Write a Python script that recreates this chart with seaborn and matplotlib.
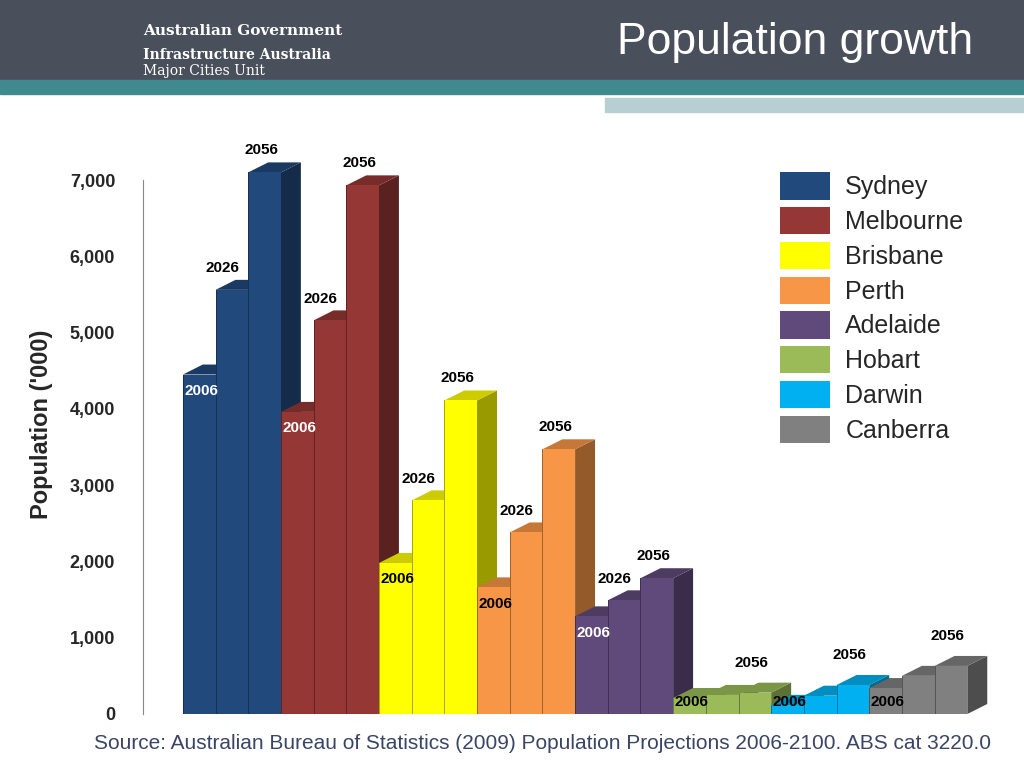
import numpy as np
import pandas as pd
import matplotlib
matplotlib.use("Agg")
import matplotlib.pyplot as plt
import matplotlib.colors as mcolors
from matplotlib.patches import Polygon, Rectangle, Patch
import seaborn as sns

# Data ('000 persons)
cities = ["Sydney", "Melbourne", "Brisbane", "Perth", "Adelaide", "Hobart", "Darwin", "Canberra"]
years = ["2006", "2026", "2056"]
pop_2006 = [4450, 3960, 1980, 1660, 1280, 210, 120, 340]
pop_2026 = [5560, 5160, 2800, 2380, 1490, 250, 240, 500]
pop_2056 = [7100, 6930, 4110, 3470, 1780, 280, 380, 630]
colors = ["#21497c", "#953735", "#ffff00", "#f79646", "#604a7b", "#9bbb59", "#00b0f0", "#808080"]
label_2006_color = ["white", "white", "black", "black", "white", "black", "black", "black"]

rows = []
for c, a, b, d in zip(cities, pop_2006, pop_2026, pop_2056):
    for y, v in zip(years, [a, b, d]):
        rows.append({"city": c, "year": y, "label": c + y, "value": v})
df = pd.DataFrame(rows)

sns.set_style("white")
plt.rcParams["font.family"] = ["Liberation Sans", "DejaVu Sans"]
fig = plt.figure(figsize=(10.24, 7.68), dpi=100)

# header
fig.patches.append(Rectangle((0, 1 - 80 / 768), 1, 80 / 768, transform=fig.transFigure, color="#4a4f5c", zorder=0))
fig.patches.append(Rectangle((0, 1 - 94 / 768), 1, 14 / 768, transform=fig.transFigure, color="#3f8a8f", zorder=0))
fig.patches.append(Rectangle((605 / 1024, 1 - 112 / 768), 420 / 1024, 14 / 768, transform=fig.transFigure, color="#b7cfd2", zorder=0))
fig.text(0.95, 0.945, "Population growth", color="white", fontsize=32, ha="right", va="center")
fig.text(0.14, 0.96, "Australian Government", color="white", fontsize=11, fontweight="bold", family="serif", va="center")
fig.text(0.14, 0.928, "Infrastructure Australia", color="white", fontsize=10, fontweight="bold", family="serif", va="center")
fig.text(0.14, 0.907, "Major Cities Unit", color="white", fontsize=10, family="serif", va="center")

ax = fig.add_axes([143 / 1024, 1 - 714 / 768, 857 / 1024, 579 / 768])
pal = [colors[cities.index(c)] for c in df["city"]]
sns.barplot(data=df, x="label", y="value", hue="label", palette=pal, width=1.0,
            legend=False, ax=ax, saturation=1, linewidth=0)
for p in ax.patches:
    p.set_zorder(4)

dx, dy = 0.61, 131
for i, r in df.iterrows():
    k = cities.index(r["city"])
    col = colors[k]
    dark = np.array(mcolors.to_rgb(col)) * 0.6
    mid = np.array(mcolors.to_rgb(col)) * 0.8
    x0, x1, h = i - 0.5, i + 0.5, r["value"]
    z = 2 + i * 0.01
    ax.add_patch(Polygon([(x1, 0), (x1 + dx, dy), (x1 + dx, h + dy), (x1, h)], color=dark, zorder=z, lw=0))
    ax.add_patch(Polygon([(x0, h), (x0 + dx, h + dy), (x1 + dx, h + dy), (x1, h)], color=mid, zorder=z, lw=0))
    ax.plot([x0, x0], [0, h], color=dark, lw=0.6, zorder=5)
    if r["year"] == "2006":
        if h > 1000:
            ax.text(x0 + 0.05, h - 120, "2006", color=label_2006_color[k], fontsize=11, fontweight="bold", va="top", zorder=6)
        else:
            ax.text(x0 + 0.05, 60, "2006", color="black", fontsize=11, fontweight="bold", va="bottom", zorder=6)
    elif r["year"] == "2026" and h > 1000:
        ax.text(i - 0.3, h + dy + 60, "2026", color="black", fontsize=11, fontweight="bold", ha="center", va="bottom", zorder=6)
    elif r["year"] == "2056":
        ax.text(i - 0.1, h + dy + 70 + (100 if h < 1000 else 0), "2056", color="black", fontsize=11,
                fontweight="bold", ha="center", va="bottom", zorder=6)

ax.set_xlim(-1.72, 24.5)
ax.set_ylim(0, 7590)
ax.set_xticks([])
ax.set_yticks(range(0, 8000, 1000))
ax.set_yticklabels([f"{v:,}" for v in range(0, 8000, 1000)], fontsize=13, fontweight="bold")
ax.set_xlabel("")
ax.set_ylabel("Population ('000)", fontsize=17, fontweight="bold", labelpad=12)
for s in ["top", "right", "bottom"]:
    ax.spines[s].set_visible(False)
ax.spines["left"].set_color("#888888")
ax.spines["left"].set_bounds(0, 7000)
ax.tick_params(axis="y", length=0, pad=20)
ax.patch.set_alpha(0)

handles = [Patch(facecolor=c, edgecolor="none", label=n) for c, n in zip(colors, cities)]
fig.legend(handles=handles, loc="upper left", bbox_to_anchor=(0.74, 0.805), frameon=False,
           fontsize=18, handlelength=2.0, handleheight=1.3, labelspacing=0.3, handletextpad=0.6)

fig.text(0.53, 0.025, "Source: Australian Bureau of Statistics (2009) Population Projections 2006-2100. ABS cat 3220.0",
         ha="center", fontsize=15, color="#3a4566")

fig.savefig("out.png", dpi=100)
